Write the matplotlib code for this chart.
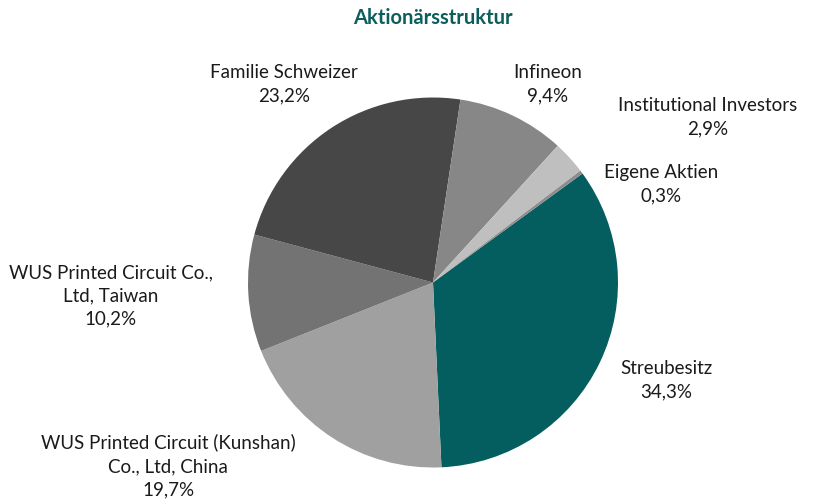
import matplotlib.pyplot as plt

plt.rcParams['font.family'] = ['Lato', 'DejaVu Sans']

# Anteile in Prozent (im Uhrzeigersinn ab Streubesitz)
shareholders = ['Streubesitz', 'WUS Printed Circuit (Kunshan)\nCo., Ltd, China',
                'WUS Printed Circuit Co.,\nLtd, Taiwan', 'Familie Schweizer',
                'Infineon', 'Institutional Investors', 'Eigene Aktien']
shares = [34.3, 19.7, 10.2, 23.2, 9.4, 2.9, 0.3]
colors = ['#045e5f', '#a0a0a0', '#737373', '#474747', '#878787', '#bfbfbf', '#8c8c8c']

# label centres in pixels (x, y from top)
label_pos = [(666, 380), (168, 466), (111, 296), (284, 84),
             (548, 84), (708, 117), (661, 184)]

W, H = 816, 503
fig = plt.figure(figsize=(W / 100, H / 100), dpi=100)
ax = fig.add_axes([(433 - 185) / W, (H - 282.5 - 185) / H, 370 / W, 370 / H])
ax.pie(shares, colors=colors, startangle=36.1, counterclock=False, radius=1,
       wedgeprops=dict(linewidth=0))
ax.set_xlim(-1, 1)
ax.set_ylim(-1, 1)
ax.axis('off')

for name, val, (x, y) in zip(shareholders, shares, label_pos):
    pct = f"{val:.1f}".replace('.', ',') + '%'
    fig.text(x / W, 1 - y / H, f"{name}\n{pct}", ha='center', va='center',
             fontsize=13.5, color='#1a1a1a', linespacing=1.45)

fig.text(433 / W, 1 - 18 / H, 'Aktionärsstruktur', ha='center', va='center',
         fontsize=14.5, fontweight='bold', color='#0b5e5c')

fig.savefig('out.png', dpi=100)
